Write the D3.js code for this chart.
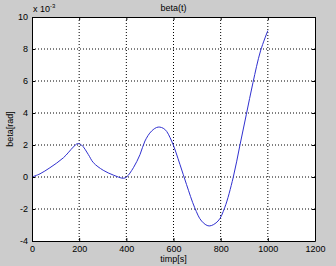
<!DOCTYPE html>
<html>
<head>
<meta charset="utf-8">
<script src="https://cdn.jsdelivr.net/npm/d3@7"></script>
<style>
  body { margin: 0; background: #cccccc; }
  svg { display: block; }
  text { font-family: "Liberation Sans", Arial, sans-serif; fill: #000; }
</style>
</head>
<body>
<svg id="chart" width="336" height="266"></svg>
<script>
// values (beta in units of 1e-3 rad)
var timp = [0, 34, 76, 133, 175, 192, 210, 239, 260, 302, 345, 387, 401, 430, 458, 479, 507, 535, 563, 592,
            627, 655, 690, 719, 751, 789, 817, 853, 881, 909, 937, 969, 1000];
var beta = [0, 0.2, 0.58, 1.2, 1.87, 2.08, 2.0, 1.4, 0.9, 0.42, 0.12, -0.08, 0, 0.58, 1.4, 2.25, 2.87, 3.12, 2.98, 2.25,
            0.8, -0.46, -1.92, -2.75, -3.06, -2.75, -1.92, -0.04, 1.94, 3.92, 5.9, 7.88, 9.15];
var xTicks = [0, 200, 400, 600, 800, 1000, 1200];
var yTicks = [-4, -2, 0, 2, 4, 6, 8, 10];

var svg = d3.select('#chart');
var mLeft = 32, mRight = 315, mTop = 17, mBottom = 241;
var w = mRight - mLeft, h = mBottom - mTop;

var x = d3.scaleLinear().domain([0, 1200]).range([mLeft, mRight]);
var y = d3.scaleLinear().domain([-4, 10]).range([mBottom, mTop]);

svg.append('rect')
  .attr('x', mLeft).attr('y', mTop)
  .attr('width', w).attr('height', h)
  .attr('fill', '#fff');

// dotted grid
var grid = svg.append('g').attr('stroke', '#000').attr('stroke-dasharray', '1,2').attr('stroke-width', 1);
xTicks.slice(1, -1).forEach(function (t) {
  grid.append('line').attr('x1', x(t)).attr('x2', x(t)).attr('y1', mTop).attr('y2', mBottom);
});
yTicks.slice(1, -1).forEach(function (t) {
  grid.append('line').attr('x1', mLeft).attr('x2', mRight).attr('y1', y(t)).attr('y2', y(t));
});

var line = d3.line()
  .x(function (d, i) { return x(timp[i]); })
  .y(function (d) { return y(d); })
  .curve(d3.curveCatmullRom);

svg.append('path')
  .datum(beta)
  .attr('d', line)
  .attr('fill', 'none')
  .attr('stroke', '#3030d0')
  .attr('stroke-width', 1);

// axes with inward ticks
var fmt = function (d) { return d; };
svg.append('g').attr('transform', 'translate(0,' + mBottom + ')')
  .call(d3.axisBottom(x).tickValues(xTicks).tickSizeInner(-3).tickSizeOuter(0).tickPadding(5).tickFormat(fmt));
svg.append('g').attr('transform', 'translate(' + mLeft + ',0)')
  .call(d3.axisLeft(y).tickValues(yTicks).tickSizeInner(-3).tickSizeOuter(0).tickPadding(4).tickFormat(fmt));
svg.append('g').attr('transform', 'translate(0,' + mTop + ')')
  .call(d3.axisTop(x).tickValues(xTicks).tickSizeInner(-3).tickSizeOuter(0).tickFormat(''));
svg.append('g').attr('transform', 'translate(' + mRight + ',0)')
  .call(d3.axisRight(y).tickValues(yTicks).tickSizeInner(-3).tickSizeOuter(0).tickFormat(''));

svg.selectAll('.domain').attr('stroke', '#000');
svg.selectAll('.tick text').attr('font-size', 9).attr('font-family', '"Liberation Sans", Arial, sans-serif');
svg.selectAll('.tick line').attr('stroke', '#000');

// exponent label
var ex = svg.append('text').attr('x', mLeft + 1).attr('y', 12).attr('font-size', 9);
ex.append('tspan').text('x 10');
ex.append('tspan').attr('dy', -4).attr('font-size', 6).text('-3');

svg.append('text').attr('x', (mLeft + mRight) / 2).attr('y', 11)
  .attr('text-anchor', 'middle').attr('font-size', 9).text('beta(t)');
svg.append('text').attr('x', (mLeft + mRight) / 2).attr('y', 262)
  .attr('text-anchor', 'middle').attr('font-size', 9).text('timp[s]');
svg.append('text')
  .attr('transform', 'translate(13,' + ((mTop + mBottom) / 2) + ') rotate(-90)')
  .attr('text-anchor', 'middle').attr('font-size', 9).text('beta[rad]');
</script>
</body>
</html>
